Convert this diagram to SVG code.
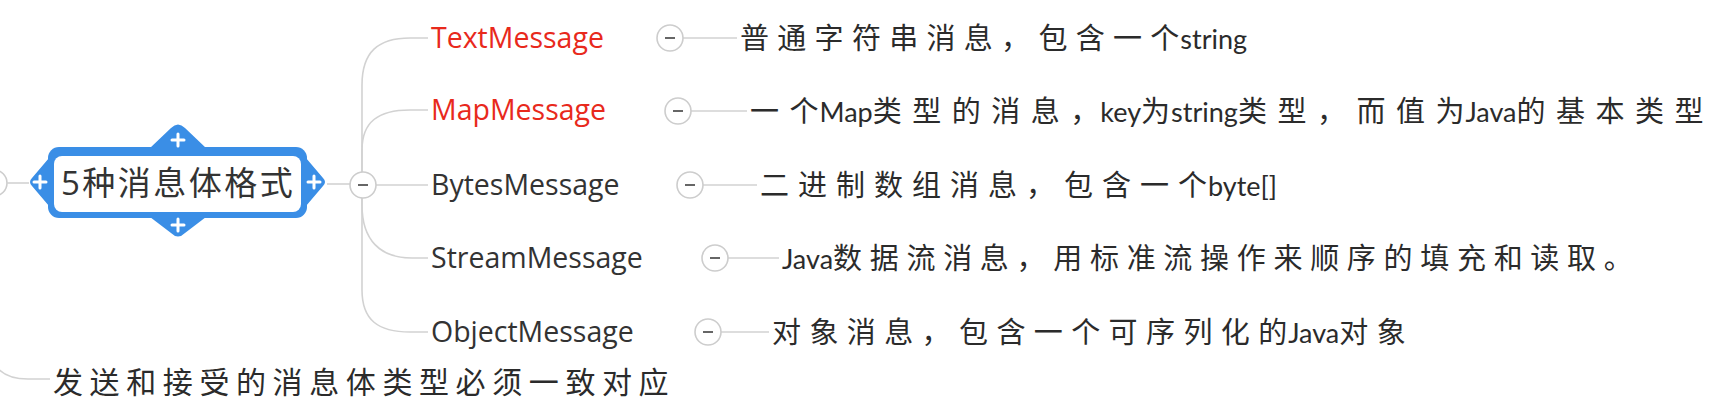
<svg xmlns="http://www.w3.org/2000/svg" width="1715" height="412" viewBox="0 0 1715 412">
<style>
.conn{fill:none;stroke:#d2d2d2;stroke-width:1.6}
.tog circle{fill:#fff;stroke:#cdcdcd;stroke-width:1.6}
.tog line{stroke:#666;stroke-width:2}
.lbl{font-family:"Open Sans","Liberation Sans",sans-serif;font-size:28.5px;fill:#333}
.red{fill:#e8291c}
.desc{font-family:"Noto Sans CJK SC",sans-serif;font-size:29px;fill:#2b2b2b}
.cj{letter-spacing:9px}
.lt{font-family:"Lato","Liberation Sans",sans-serif;font-size:27px}
.plus{stroke:#fff;stroke-width:3;stroke-linecap:round}
</style>
<rect width="1715" height="412" fill="#fff"/>
<g id="connectors">
<circle cx="-6" cy="183" r="13" fill="#fff" stroke="#cdcdcd" stroke-width="1.6"/>
<path class="conn" d="M7,183 H29"/>
<path class="conn" d="M-14,340 C-8,368 2,379 28,379 H50"/>
<path class="conn" d="M327,184 H350"/>
<path class="conn" d="M362,172 V85 C362,52 378,38 410,38 H428"/>
<path class="conn" d="M362,172 V150 C362,122 378,110 410,110 H428"/>
<path class="conn" d="M376,185 H428"/>
<path class="conn" d="M362,198 V205 C362,240 380,258 412,258 H428"/>
<path class="conn" d="M362,198 V290 C362,320 378,332 410,332 H428"/>
<path class="conn" d="M683,38 H737"/>
<path class="conn" d="M691,111 H747"/>
<path class="conn" d="M703,185 H757"/>
<path class="conn" d="M728,258 H779"/>
<path class="conn" d="M721,332 H769"/>
<g class="tog">
<circle cx="363" cy="185" r="13"/><line x1="358" y1="185" x2="368" y2="185"/>
<circle cx="670" cy="38" r="13"/><line x1="665" y1="38" x2="675" y2="38"/>
<circle cx="678" cy="111" r="13"/><line x1="673" y1="111" x2="683" y2="111"/>
<circle cx="690" cy="185" r="13"/><line x1="685" y1="185" x2="695" y2="185"/>
<circle cx="715" cy="258" r="13"/><line x1="710" y1="258" x2="720" y2="258"/>
<circle cx="708" cy="332" r="13"/><line x1="703" y1="332" x2="713" y2="332"/>
</g>
</g>
<g id="root">
<path fill="#3a8ee6" d="M150,148 L171,128 Q178,121 185,128 L206,148 Z M150,217 L171,233 Q178,240 185,233 L206,217 Z M49,158 L32,178 Q28,182 32,186 L49,206 Z M306,158 L323,178 Q327,182 323,186 L306,206 Z"/>
<rect x="48" y="147" width="259" height="71" rx="11" fill="#3a8ee6"/>
<rect x="54" y="156" width="247" height="56" rx="8" fill="#fff"/>
<path class="plus" d="M172,140 H184 M178,134 V146 M172,225 H184 M178,219 V231 M34,182 H46 M40,176 V188 M308,182 H320 M314,176 V188"/>
<text x="61" y="195" font-family="Open Sans, Noto Sans CJK SC, sans-serif" font-size="33" letter-spacing="2.5" fill="#333">5种消息体格式</text>
</g>
<g id="n-text"><text class="lbl red" x="431" y="48">TextMessage</text></g>
<g id="n-map"><text class="lbl red" x="431" y="120">MapMessage</text></g>
<g id="n-bytes"><text class="lbl" x="431" y="195">BytesMessage</text></g>
<g id="n-stream"><text class="lbl" x="431" y="268">StreamMessage</text></g>
<g id="n-object"><text class="lbl" x="431" y="342">ObjectMessage</text></g>
<g id="d-text"><text class="desc" x="740" y="49"><tspan style="letter-spacing:8.3px">普通字符串消息，包含一</tspan><tspan>个</tspan><tspan class="lt" dx="1">string</tspan></text></g>
<g id="d-map"><text class="desc" x="750" y="122" letter-spacing="10.5"><tspan>一</tspan><tspan letter-spacing="0">个</tspan><tspan class="lt" letter-spacing="0" dx="1">Map</tspan><tspan>类型的消息</tspan><tspan letter-spacing="0">，</tspan><tspan class="lt" letter-spacing="0" dx="1">key</tspan><tspan letter-spacing="0">为</tspan><tspan class="lt" letter-spacing="0" dx="1">string</tspan><tspan>类型，而值</tspan><tspan letter-spacing="0">为</tspan><tspan class="lt" letter-spacing="0" dx="1">Java</tspan><tspan>的基本类型</tspan></text></g>
<g id="d-bytes"><text class="desc" x="760" y="196"><tspan class="cj">二进制数组消息，包含一</tspan><tspan>个</tspan><tspan class="lt" dx="1">byte[]</tspan></text></g>
<g id="d-stream"><text class="desc" x="782" y="269"><tspan class="lt">Java</tspan><tspan letter-spacing="7.7">数据流消息，用标准流操作来顺序的填充和读取。</tspan></text></g>
<g id="d-object"><text class="desc" x="772" y="343"><tspan style="letter-spacing:8.4px">对象消息，包含一个可序列化</tspan><tspan>的</tspan><tspan class="lt" dx="1">Java</tspan><tspan style="letter-spacing:8.4px">对象</tspan></text></g>
<g id="n-note"><text x="53" y="393" font-family="Noto Sans CJK SC, sans-serif" font-size="30" letter-spacing="6.6" fill="#2b2b2b">发送和接受的消息体类型必须一致对应</text></g>
</svg>
